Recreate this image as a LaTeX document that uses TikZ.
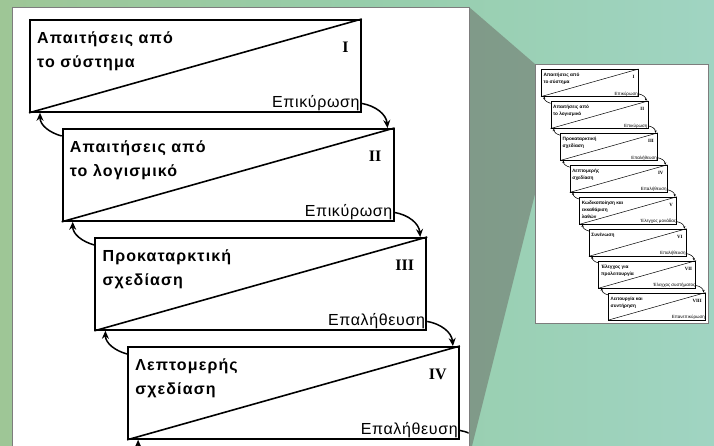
\documentclass[tikz,border=0pt]{standalone}
\usepackage{fontspec}
\setmainfont{Liberation Sans}
\newfontfamily\numfont{Liberation Serif}
\usetikzlibrary{calc,arrows.meta}

\definecolor{bgA}{RGB}{158,198,150}
\definecolor{bgB}{RGB}{150,205,170}
\definecolor{bgC}{RGB}{160,212,194}
\definecolor{trap}{RGB}{112,120,110}
\definecolor{rim}{RGB}{125,125,125}

\tikzset{
  mbox/.style={draw=black, line width=1.8pt, minimum width=331pt, minimum height=92pt, inner sep=0pt, fill=white},
  mline/.style={line width=1.6pt},
  mtitle/.style={font=\fontsize{16}{24}\selectfont\bfseries\addfontfeature{LetterSpace=7}, align=left, inner sep=0pt,
    execute at begin node={\rule{0pt}{13pt}}},
  mnum/.style={font=\fontsize{16}{18}\selectfont\numfont\bfseries, inner sep=0pt},
  mlab/.style={font=\fontsize{16}{18}\selectfont\addfontfeature{LetterSpace=4}, inner sep=0pt},
  marr/.style={line width=1.5pt, -{Stealth[length=8pt,width=7pt]}},
  ibox/.style={draw=black, line width=0.6pt, minimum width=97pt, minimum height=27pt, inner sep=0pt, fill=white},
  iline/.style={line width=0.5pt},
  ititle/.style={font=\fontsize{4.7}{7}\selectfont\bfseries, align=left, inner sep=0pt,
    execute at begin node={\rule{0pt}{3.8pt}}},
  inum/.style={font=\fontsize{4.8}{5}\selectfont\numfont\bfseries, inner sep=0pt},
  ilab/.style={font=\fontsize{4.5}{5}\selectfont, inner sep=0pt},
  iarr/.style={line width=0.55pt, -{Stealth[length=2.5pt,width=2.2pt]}},
}

% #1 prefix, #2 x0, #3 y0, #4 scale, #5 last box with texts, #6 last arrow pair
\newcommand{\drawfall}[6]{%
  \foreach \k/\ta/\lb/\nm in {%
    0/{Απαιτήσεις από\\το σύστημα}/Επικύρωση/I,
    1/{Απαιτήσεις από\\το λογισμικό}/Επικύρωση/II,
    2/{Προκαταρκτική\\σχεδίαση}/Επαλήθευση/III,
    3/{Λεπτομερής\\σχεδίαση}/Επαλήθευση/IV,
    4/{Κωδικοποίηση και\\εκκαθάριση\\λαθών}/Έλεγχος μονάδας/V,
    5/{Συνένωση}/Επαλήθευση/VI,
    6/{Έλεγχος για\\προλειτουργία}/Έλεγχος συστήματος/VII,
    7/{Λειτουργία και\\συντήρηση}/Επανεπικύρωση/VIII}{%
    \pgfmathsetmacro\bx{#2+32.7*\k*#4}%
    \pgfmathsetmacro\by{#3+109*\k*#4}%
    \node[#1box, anchor=north west] (#1b\k) at (\bx,\by) {};
    \draw[#1line] (#1b\k.south west) -- (#1b\k.north east);
    \ifnum\k>#5\relax\else
      \node[#1title, anchor=north west] (#1t\k) at ($(#1b\k.north west)+(8*#4,13*#4)$) {\ta};
      \node[#1num, anchor=base east] (#1n\k) at ($(#1b\k.north east)+(-13*#4,33*#4)$) {\nm};
      \node[#1lab, anchor=base east] (#1l\k) at ($(#1b\k.south east)+(-2*#4,-5*#4)$) {\lb};
    \fi
  }
  \foreach \k [evaluate=\k as \n using int(\k+1)] in {0,...,#6}{%
    \draw[#1arr] (#1l\k.east -| #1b\k.east) to[out=-10,in=95] ($(#1b\n.north east)+(-7*#4,0)$);
    \draw[#1arr] ($(#1b\n.north west)+(0,8*#4)$) to[out=165,in=270] ($(#1b\k.south west)+(11*#4,0)$);
  }
}

\begin{document}
\begin{tikzpicture}[x=1pt,y=-1pt]
  \useasboundingbox (0,0) rectangle (714,445);
  % background
  \shade[left color=bgA, right color=bgC, middle color=bgB] (0,0) rectangle (714,445);
  % magnifier trapezoid
  \fill[trap, opacity=0.6] (469,7) -- (535,64) -- (535,194) -- (471,450) -- (469,450) -- cycle;
  % main panel
  \fill[white] (12,7) rectangle (469,460);
  \draw[rim, line width=1pt] (12,460) -- (12,7) -- (469,7) -- (469,460);
  \begin{scope}
    \clip (12.5,7.5) rectangle (468.5,445);
    \drawfall{m}{29}{19}{1}{3}{3}
  \end{scope}
  % inset panel
  \fill[white] (535,64) rectangle (708,323);
  \draw[rim, line width=0.8pt] (535,64) rectangle (708,323);
  \drawfall{i}{541}{69}{0.293}{7}{6}
\end{tikzpicture}
\end{document}
